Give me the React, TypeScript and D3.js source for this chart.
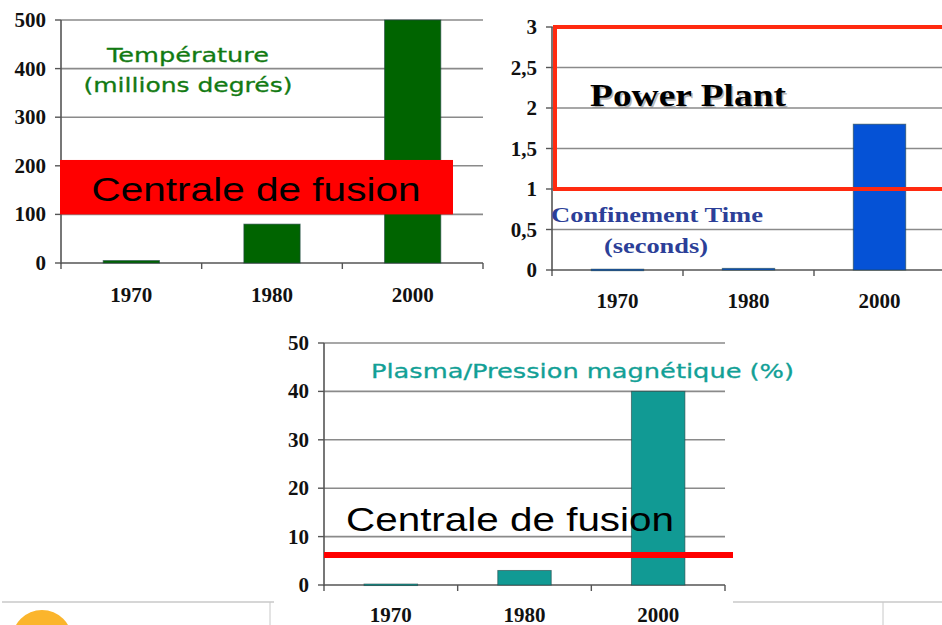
import React from "react";
import * as d3 from "d3";

const years = ["1970", "1980", "2000"];
const temperature = [5, 80, 500];
const confinement = [0.01, 0.02, 1.8];
const plasmaPressure = [0.2, 3, 40];

const tempTicks = [0, 100, 200, 300, 400, 500];
const confTicks = [0, 0.5, 1, 1.5, 2, 2.5, 3];
const plasmaTicks = [0, 10, 20, 30, 40, 50];

// annotation values
const tempBand = [100, 212];
const confBox = [1, 3];
const plasmaLine = 6.2;

const W = 942;
const H = 625;

type ChartProps = {
  x0: number; x1: number; y0: number; y1: number;
  max: number; ticks: number[]; values: number[]; color: string;
  fmt: (v: number) => string; labelY: number;
};

function BarChart({ x0, x1, y0, y1, max, ticks, values, color, fmt, labelY }: ChartProps) {
  const x = d3.scaleBand<string>().domain(years).range([x0, x1]).paddingInner(0.6).paddingOuter(0.3);
  const y = d3.scaleLinear().domain([0, max]).range([y0, y1]);
  const step = x.step();
  const bounds = d3.range(years.length + 1).map((i) => x0 + i * step);
  return (
    <g>
      {ticks.map((t) => (
        <g key={t}>
          <line x1={x0} x2={x1} y1={y(t)} y2={y(t)} stroke={t === 0 ? "#555" : "#8a8a8a"} strokeWidth={1.6} />
          <line x1={x0 - 6} x2={x0} y1={y(t)} y2={y(t)} stroke="#555" strokeWidth={1.4} />
          <text x={x0 - 15} y={y(t) + 7} textAnchor="end" fontFamily="'Liberation Serif', serif" fontWeight="bold" fontSize={21} fill="#111">
            {fmt(t)}
          </text>
        </g>
      ))}
      <line x1={x0} x2={x0} y1={y(max)} y2={y0 + 1} stroke="#555" strokeWidth={1.6} />
      {bounds.map((b, i) => (
        <line key={i} x1={b} x2={b} y1={y0} y2={y0 + 6} stroke="#555" strokeWidth={1.4} />
      ))}
      {values.map((v, i) => (
        <rect key={i} x={x(years[i])!} width={x.bandwidth()} y={y(v)} height={Math.max(1.5, y0 - y(v))}
          fill={color} stroke="#244" strokeOpacity={0.6} strokeWidth={1} />
      ))}
      {years.map((yr) => (
        <text key={yr} x={x(yr)! + x.bandwidth() / 2} y={labelY} textAnchor="middle" fontFamily="'Liberation Serif', serif" fontWeight="bold" fontSize={21} fill="#111">
          {yr}
        </text>
      ))}
    </g>
  );
}

export default function App() {
  const y1 = d3.scaleLinear().domain([0, 500]).range([263, 20]);
  const y2 = d3.scaleLinear().domain([0, 3]).range([270, 27]);
  const y3 = d3.scaleLinear().domain([0, 50]).range([585, 343]);
  const comma = (v: number) => String(v).replace(".", ",");
  return (
    <svg width={W} height={H} style={{ position: "absolute", left: 0, top: 0, background: "#fff" }}>
      <rect x={0} y={0} width={W} height={H} fill="#fff" />
      {/* slide footer decorations */}
      <line x1={2} x2={274} y1={602} y2={602} stroke="#c8c8c8" strokeWidth={1.5} />
      <line x1={733} x2={942} y1={602} y2={602} stroke="#c8c8c8" strokeWidth={1.5} />
      <line x1={270} x2={270} y1={602} y2={625} stroke="#c8c8c8" strokeWidth={1} />
      <line x1={883} x2={883} y1={602} y2={625} stroke="#c8c8c8" strokeWidth={1} />
      <circle cx={42} cy={640} r={30} fill="#fbb52c" />

      {/* Chart 1 */}
      <BarChart x0={61} x1={483} y0={263} y1={20} max={500} ticks={tempTicks} values={temperature} color="#006400" fmt={String} labelY={302} />
      <text x={188} y={62} textAnchor="middle" fontFamily="'DejaVu Sans', sans-serif" fontSize={20} fill="#127a12" stroke="#127a12" strokeWidth={0.3} textLength={162} lengthAdjust="spacingAndGlyphs">Température</text>
      <text x={188} y={92} textAnchor="middle" fontFamily="'DejaVu Sans', sans-serif" fontSize={20} fill="#127a12" stroke="#127a12" strokeWidth={0.3} textLength={209} lengthAdjust="spacingAndGlyphs">(millions degrés)</text>
      <rect x={60} width={393} y={y1(tempBand[1])} height={y1(tempBand[0]) - y1(tempBand[1])} fill="#ff0000" />
      <text x={256} y={201} textAnchor="middle" fontFamily="'Liberation Sans', sans-serif" fontSize={33} fill="#000" textLength={329} lengthAdjust="spacingAndGlyphs">Centrale de fusion</text>

      {/* Chart 2 */}
      <BarChart x0={552} x1={945} y0={270} y1={27} max={3} ticks={confTicks} values={confinement} color="#0552d6" fmt={comma} labelY={308} />
      <rect x={555} y={y2(confBox[1])} width={400} height={y2(confBox[0]) - y2(confBox[1])} fill="none" stroke="#ff2a10" strokeWidth={4} />
      <text x={688} y={106} textAnchor="middle" fontFamily="'Liberation Serif', serif" fontWeight="bold" fontSize={31} fill="#888" opacity={0.6} transform="translate(1.5,1.5)" textLength={196} lengthAdjust="spacingAndGlyphs">Power Plant</text>
      <text x={688} y={106} textAnchor="middle" fontFamily="'Liberation Serif', serif" fontWeight="bold" fontSize={31} fill="#000" textLength={196} lengthAdjust="spacingAndGlyphs">Power Plant</text>
      <text x={657} y={222} textAnchor="middle" fontFamily="'Liberation Serif', serif" fontWeight="bold" fontSize={21} fill="#2c3f98" textLength={212} lengthAdjust="spacingAndGlyphs">Confinement Time</text>
      <text x={656} y={253} textAnchor="middle" fontFamily="'Liberation Serif', serif" fontWeight="bold" fontSize={21} fill="#2c3f98" textLength={104} lengthAdjust="spacingAndGlyphs">(seconds)</text>

      {/* Chart 3 */}
      <rect x={275} y={330} width={458} height={295} fill="#fff" />
      <BarChart x0={324} x1={725} y0={585} y1={343} max={50} ticks={plasmaTicks} values={plasmaPressure} color="#119a94" fmt={String} labelY={622} />
      <text x={371} y={378} fontFamily="'DejaVu Sans', sans-serif" fontSize={20} fill="#12a096" stroke="#12a096" strokeWidth={0.3} textLength={423} lengthAdjust="spacingAndGlyphs">Plasma/Pression magnétique (%)</text>
      <line x1={324} x2={733} y1={y3(plasmaLine)} y2={y3(plasmaLine)} stroke="#ff0000" strokeWidth={6} />
      <text x={346} y={531} fontFamily="'Liberation Sans', sans-serif" fontSize={33} fill="#000" textLength={328} lengthAdjust="spacingAndGlyphs">Centrale de fusion</text>
    </svg>
  );
}
